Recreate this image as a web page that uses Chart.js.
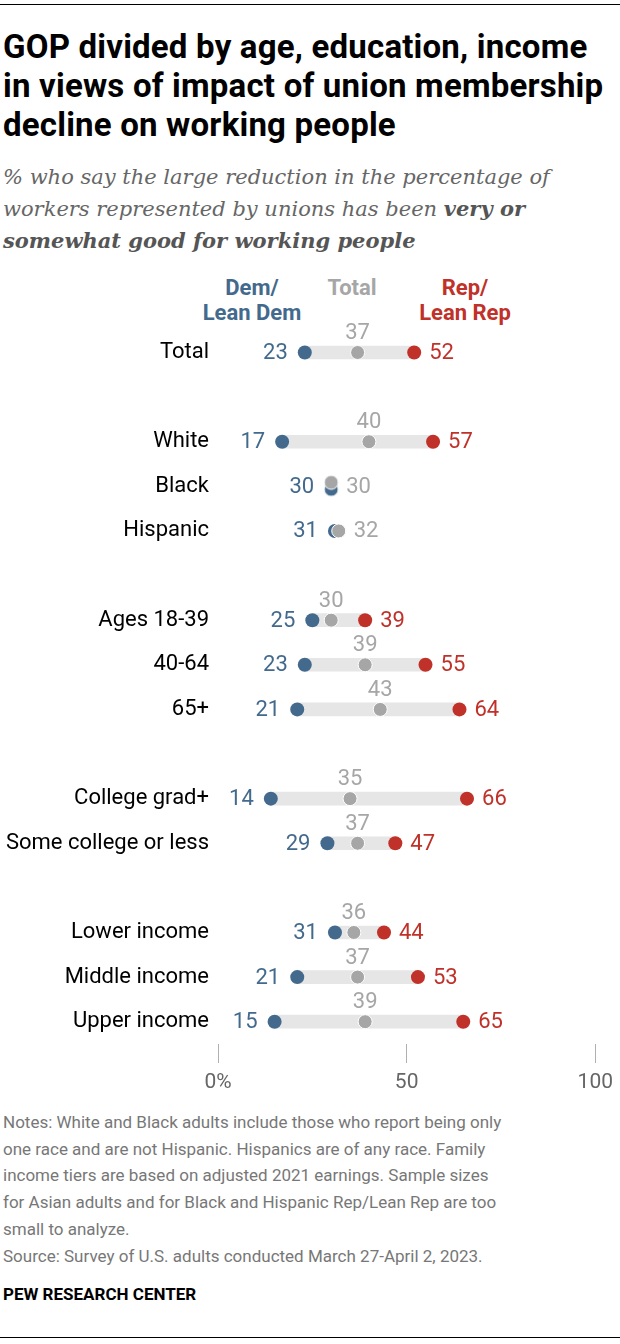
<!DOCTYPE html>
<html>
<head>
<meta charset="utf-8">
<script src="https://cdn.jsdelivr.net/npm/chart.js@4/dist/chart.umd.min.js"></script>
<style>
  html, body { margin:0; padding:0; background:#fff; }
  body { width:620px; height:1344px; position:relative; overflow:hidden; }
  .abs { position:absolute; white-space:nowrap; }
  .rule { position:absolute; left:0; width:620px; height:1px; background:#000; }
  #title { left:3px; top:27px; font:700 33px Roboto, sans-serif; letter-spacing:0.2px; line-height:39px; color:#000; }
  #subtitle { left:3px; top:161px; font:italic 21px "DejaVu Serif", serif; line-height:32px; color:#666; }
  #subtitle b { font-weight:700; color:#555; }
  .hdr { width:200px; text-align:center; font:700 22px Roboto, sans-serif; line-height:25px; }
  #notes { left:3px; top:1109px; font:17px Roboto, sans-serif; line-height:26.7px; color:#777; }
  #pew { left:3px; top:1284px; font:700 17px Roboto, sans-serif; line-height:20px; color:#000; }
  #wrap { position:absolute; left:0; top:308px; width:620px; height:792px; }
</style>
</head>
<body>
<div class="rule" style="top:4px"></div>
<div id="title" class="abs">GOP divided by age, education, income<br>in views of impact of union membership<br>decline on working people</div>
<div id="subtitle" class="abs">% who say the large reduction in the percentage of<br>workers represented by unions has been <b>very or</b><br><b>somewhat good for working people</b></div>
<div class="abs hdr" style="left:152px;top:275px;color:#436a8d">Dem/<br>Lean Dem</div>
<div class="abs hdr" style="left:252px;top:275px;color:#a6a6a6">Total</div>
<div class="abs hdr" style="left:365px;top:275px;color:#bf3129">Rep/<br>Lean Rep</div>
<div id="wrap"><canvas id="c" width="620" height="792"></canvas></div>
<div id="notes" class="abs">Notes: White and Black adults include those who report being only<br>one race and are not Hispanic. Hispanics are of any race. Family<br>income tiers are based on adjusted 2021 earnings. Sample sizes<br>for Asian adults and for Black and Hispanic Rep/Lean Rep are too<br>small to analyze.<br>Source: Survey of U.S. adults conducted March 27-April 2, 2023.</div>
<div id="pew" class="abs">PEW RESEARCH CENTER</div>
<div class="rule" style="top:1337px"></div>
<script>
// ---- data ----
const categories = ['Total','White','Black','Hispanic','Ages 18-39','40-64','65+','College grad+','Some college or less','Lower income','Middle income','Upper income'];
const demValues   = [23, 17, 30, 31, 25, 23, 21, 14, 29, 31, 21, 15];
const totalValues = [37, 40, 30, 32, 30, 39, 43, 35, 37, 36, 37, 39];
const repValues   = [52, 57, null, null, 39, 55, 64, 66, 47, 44, 53, 65];
const groupSizes  = [1, 3, 3, 2, 3];
const xTickValues = [0, 50, 100];

// ---- styles ----
const DEM = '#436a8d', TOT = '#a6a6a6', REP = '#bf3129', BAR = '#e6e6e6';
const FONT = 'Roboto, sans-serif';

// build rows with spacer rows between groups
const labels = [], dem = [], tot = [], rep = [], rng = [];
let k = 0;
groupSizes.forEach((n, g) => {
  if (g > 0) { labels.push(''); dem.push(null); tot.push(null); rep.push(null); rng.push(null); }
  for (let j = 0; j < n; j++, k++) {
    labels.push(categories[k]);
    dem.push(demValues[k]); tot.push(totalValues[k]); rep.push(repValues[k]);
    const vals = [demValues[k], totalValues[k], repValues[k]].filter(v => v !== null);
    rng.push([Math.min(...vals), Math.max(...vals)]);
  }
});

// offset dot images for exactly overlapping values
function dotImage(color, r, dy) {
  const c = document.createElement('canvas');
  const h = 2 * (r + Math.abs(dy)) + 4, w = 2 * r + 4;
  c.width = w; c.height = h;
  const x = c.getContext('2d');
  x.beginPath(); x.arc(w / 2, h / 2 + dy, r, 0, Math.PI * 2);
  x.fillStyle = color; x.fill();
  x.lineWidth = 1; x.strokeStyle = '#fff'; x.stroke();
  return c;
}
const totUp = dotImage(TOT, 7, -4);
const demDown = dotImage(DEM, 7, 3);
const overlap = (i) => dem[i] !== null && tot[i] !== null && dem[i] === tot[i];

const labelPlugin = {
  id: 'valueLabels',
  afterDatasetsDraw(chart) {
    const ctx = chart.ctx;
    const mDem = chart.getDatasetMeta(1).data, mTot = chart.getDatasetMeta(0).data, mRep = chart.getDatasetMeta(2).data;
    ctx.save();
    ctx.font = '22px ' + FONT;
    ctx.textBaseline = 'middle';
    labels.forEach((l, i) => {
      if (dem[i] === null) return;
      const pd = mDem[i], pt = mTot[i], pr = mRep[i];
      ctx.fillStyle = DEM; ctx.textAlign = 'right';
      ctx.fillText(String(dem[i]), pd.x - 17, pd.y + 1);
      if (rep[i] !== null) {
        ctx.fillStyle = REP; ctx.textAlign = 'left';
        ctx.fillText(String(rep[i]), pr.x + 15, pr.y + 1);
        ctx.fillStyle = TOT; ctx.textAlign = 'center';
        ctx.fillText(String(tot[i]), pt.x, pt.y - 19);
      } else {
        ctx.fillStyle = TOT; ctx.textAlign = 'left';
        ctx.fillText(String(tot[i]), pt.x + 15, pt.y + 1);
      }
    });
    ctx.restore();
  }
};

new Chart(document.getElementById('c'), {
  type: 'bar',
  data: {
    labels: labels,
    datasets: [
      { type: 'line', label: 'Total', data: tot, showLine: false, order: 0,
        pointRadius: 7, pointHoverRadius: 7, pointBackgroundColor: TOT, pointBorderColor: '#fff', pointBorderWidth: 1,
        pointStyle: (c) => overlap(c.dataIndex) ? totUp : 'circle' },
      { type: 'line', label: 'Dem/Lean Dem', data: dem, showLine: false, order: 1,
        pointRadius: 7, pointHoverRadius: 7, pointBackgroundColor: DEM, pointBorderColor: DEM, pointBorderWidth: 0,
        pointStyle: (c) => overlap(c.dataIndex) ? demDown : 'circle' },
      { type: 'line', label: 'Rep/Lean Rep', data: rep, showLine: false, order: 1,
        pointRadius: 7, pointHoverRadius: 7, pointBackgroundColor: REP, pointBorderColor: REP, pointBorderWidth: 0 },
      { type: 'bar', label: 'range', data: rng, order: 5, backgroundColor: BAR, barThickness: 13, borderWidth: 0, borderSkipped: false }
    ]
  },
  options: {
    indexAxis: 'y',
    responsive: false,
    animation: false,
    devicePixelRatio: 1,
    layout: { padding: { top: 8, right: 20, left: 0, bottom: 0 } },
    plugins: { legend: { display: false }, tooltip: { enabled: false } },
    scales: {
      y: {
        type: 'category',
        offset: true,
        grid: { display: false, drawTicks: false },
        border: { display: false },
        ticks: { color: '#000', font: { family: FONT, size: 22 }, padding: 9, autoSkip: false },
        afterFit: (s) => { s.width = 218; }
      },
      x: {
        type: 'linear', min: 0, max: 100,
        afterBuildTicks: (s) => { s.ticks = xTickValues.map(v => ({ value: v })); },
        grid: { drawOnChartArea: false, drawTicks: true, tickLength: 19, color: '#b0b0b0', lineWidth: 1 },
        border: { display: false },
        ticks: { color: '#666', font: { family: FONT, size: 21 }, padding: 7, maxRotation: 0,
                 callback: (v) => v === 0 ? '0%' : String(v) },
        afterFit: (s) => { s.height = 56; }
      }
    }
  },
  plugins: [labelPlugin]
});
</script>
</body>
</html>
